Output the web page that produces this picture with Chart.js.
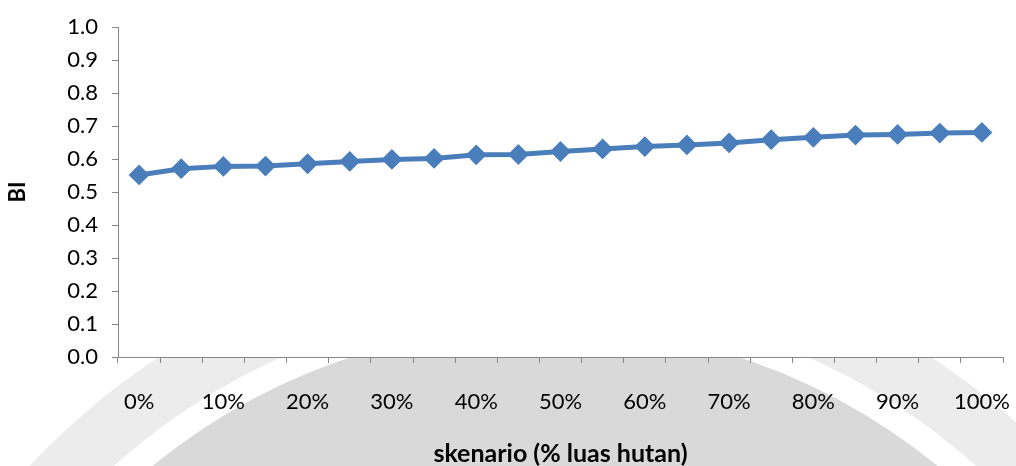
<!DOCTYPE html>
<html>
<head>
<meta charset="utf-8">
<script src="https://cdn.jsdelivr.net/npm/chart.js@4/dist/chart.umd.min.js"></script>
<style>
  html, body { margin: 0; padding: 0; background: #ffffff; }
  #wrap { width: 1016px; height: 466px; position: relative; }
</style>
</head>
<body>
<div id="wrap"><canvas id="c" width="1016" height="466"></canvas></div>
<script>
// Scenario categories: share of forest area, 0% .. 100% in steps of 5%
const categories = ['0%','5%','10%','15%','20%','25%','30%','35%','40%','45%','50%',
                    '55%','60%','65%','70%','75%','80%','85%','90%','95%','100%'];
// BI value per scenario
const biValues = [0.552, 0.571, 0.578, 0.579, 0.586, 0.593, 0.599, 0.602, 0.613, 0.614, 0.623,
                  0.631, 0.638, 0.643, 0.649, 0.659, 0.666, 0.673, 0.675, 0.679, 0.681];
// Y axis tick values
const yTicks = [0.0, 0.1, 0.2, 0.3, 0.4, 0.5, 0.6, 0.7, 0.8, 0.9, 1.0];

const FONT = 'Lato, "Open Sans", "DejaVu Sans", sans-serif';
const LINE_BLUE = '#4a7ebb';

// Background emblem behind the axis area, with a white plot area on top
const backdrop = {
  id: 'backdrop',
  beforeDraw(chart) {
    const { ctx, chartArea: a } = chart;
    ctx.save();
    ctx.fillStyle = '#ffffff';
    ctx.fillRect(0, 0, chart.width, chart.height);
    const cx = 545, cy = 947;
    ctx.beginPath();
    ctx.arc(cx, cy, 705, 0, Math.PI * 2);
    ctx.fillStyle = '#ececec';
    ctx.fill();
    ctx.beginPath();
    ctx.arc(cx, cy, 646, 0, Math.PI * 2);
    ctx.fillStyle = '#ffffff';
    ctx.fill();
    ctx.beginPath();
    ctx.arc(cx, cy, 621, 0, Math.PI * 2);
    ctx.fillStyle = '#d9d9d9';
    ctx.fill();
    ctx.fillStyle = '#ffffff';
    ctx.fillRect(a.left, a.top, a.right - a.left, a.bottom - a.top);
    ctx.restore();
  }
};

new Chart(document.getElementById('c'), {
  type: 'line',
  data: {
    labels: categories,
    datasets: [{
      data: biValues,
      borderColor: LINE_BLUE,
      backgroundColor: LINE_BLUE,
      borderWidth: 5,
      pointStyle: 'rectRot',
      pointRadius: 9,
      pointBorderWidth: 2,
      pointBorderColor: LINE_BLUE,
      pointBackgroundColor: LINE_BLUE,
      tension: 0,
      fill: false
    }]
  },
  options: {
    responsive: false,
    animation: false,
    devicePixelRatio: 1,
    layout: { padding: { left: 0, right: 13, top: 24, bottom: 0 } },
    plugins: {
      legend: { display: false },
      tooltip: { enabled: false }
    },
    scales: {
      x: {
        type: 'category',
        offset: true,
        grid: {
          offset: true,
          drawOnChartArea: false,
          drawTicks: true,
          tickLength: 6,
          tickColor: '#868686'
        },
        border: { display: true, color: '#868686', width: 1 },
        ticks: {
          autoSkip: false,
          maxRotation: 0,
          minRotation: 0,
          padding: 26,
          color: '#000000',
          font: { family: FONT, size: 22 },
          callback: (v, i) => (i % 2 === 0 ? categories[i] : '')
        },
        title: {
          display: true,
          text: 'skenario (% luas hutan)',
          color: '#000000',
          font: { family: FONT, size: 25, weight: 'bold', lineHeight: 1 },
          padding: { top: 0, bottom: 0 }
        },
        afterFit(scale) {
          scale.height = 109;
          scale.paddingLeft = 0;
          scale.paddingRight = 0;
        }
      },
      y: {
        type: 'linear',
        min: yTicks[0],
        max: yTicks[yTicks.length - 1],
        afterBuildTicks(scale) { scale.ticks = yTicks.map(v => ({ value: v })); },
        grid: {
          drawOnChartArea: false,
          drawTicks: true,
          tickLength: 6,
          tickColor: '#868686'
        },
        border: { display: true, color: '#868686', width: 1 },
        ticks: {
          padding: 14,
          color: '#000000',
          font: { family: FONT, size: 22 },
          callback: v => Number(v).toFixed(1)
        },
        title: {
          display: true,
          text: 'BI',
          color: '#000000',
          font: { family: FONT, size: 22, weight: 'bold', lineHeight: 1 },
          padding: { top: 7, bottom: 0 }
        },
        afterFit(scale) { scale.width = 118; }
      }
    }
  },
  plugins: [backdrop]
});
</script>
</body>
</html>
